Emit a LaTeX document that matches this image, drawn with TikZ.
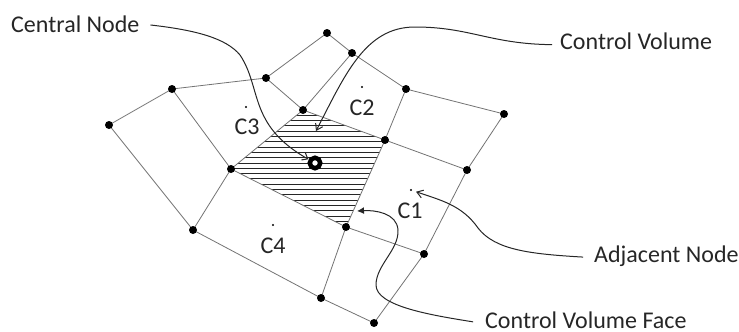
\documentclass[tikz,border=0pt]{standalone}
\usepackage{fontspec}
\setmainfont{Carlito}
\usetikzlibrary{arrows.meta}
\tikzset{
  meshpt/.style={circle,fill=black,inner sep=0pt,minimum size=8pt},
  meshline/.style={draw=black!55,line width=0.8pt},
  centredot/.style={circle,fill=black,inner sep=0pt,minimum size=2.2pt},
  leader/.style={draw=black!85,line width=1pt},
  lbl/.style={inner sep=0pt,anchor=base,font=\fontsize{24}{26}\selectfont,text=black!85}
}
\begin{document}
\begin{tikzpicture}[x=1pt,y=-1pt]
\useasboundingbox (0,0) rectangle (739,332);
% hatching of the control volume
\begin{scope}
\clip (303,110)--(385,140)--(346,227)--(231,169)--cycle;
\foreach \y in {110,115.3,...,228} \draw[black!85,line width=1pt] (225,\y)--(390,\y);
\end{scope}
% mesh
\foreach \name/\x/\y in {a/109/125,b/172/89,c/266/78,d/327/33,e/352/53,f/303/110,g/231/169,h/385/140,i/346/227,j/406/89,k/504/114,l/467/170,m/193/230,n/321/298,o/374/323,p/424/254}
  \coordinate (\name) at (\x,\y);
\foreach \u/\v in {a/b,b/c,c/d,d/e,e/j,j/k,k/l,l/p,p/o,o/n,n/m,m/a,b/g,c/f,f/e,f/g,f/h,h/j,h/l,h/i,i/g,i/p,i/n,g/m}
  \draw[meshline] (\u)--(\v);
\foreach \name in {a,b,c,d,e,f,g,h,i,j,k,l,m,n,o,p}
  \node[meshpt] (pt\name) at (\name) {};
% cell centres
\node[centredot] (dotone) at (411,190) {};
\node[centredot] (dottwo) at (362,87) {};
\node[centredot] (dotthree) at (246,107) {};
\node[centredot] (dotfour) at (273,225) {};
\node[lbl] (cone) at (410,218) {C1};
\node[lbl] (ctwo) at (362,115) {C2};
\node[lbl] (cthree) at (247,134) {C3};
\node[lbl] (cfour) at (273,253) {C4};
\node[circle,draw=black,fill=white,line width=4.5pt,inner sep=0pt,minimum size=10.5pt] (central) at (315,163) {};
% labels
\node[lbl,anchor=base west] (lblcentral) at (11,32) {Central Node};
\node[lbl,anchor=base west] (lblvolume) at (560,49) {Control Volume};
\node[lbl,anchor=base west] (lbladjacent) at (594,262) {Adjacent Node};
\node[lbl,anchor=base west] (lblface) at (485,328) {Control Volume Face};
\coordinate (facept) at (357,211);
\coordinate (volumept) at (316,131);
% leaders
\draw[leader,-{Straight Barb[length=5pt,width=8pt]},shorten <=11pt] (lblcentral.east) .. controls (195,30) and (226,38) .. (240,55) .. controls (262,88) and (248,125) .. (central);
\draw[leader,-{Straight Barb[length=6pt,width=8pt]},shorten <=8pt] ([yshift=-4pt]lblvolume.west) .. controls (490,44) and (470,27) .. (415,27) .. controls (365,27) and (345,75) .. (volumept);
\draw[leader,-{Straight Barb[length=6pt,width=8pt]},shorten <=11pt,shorten >=4pt] ([yshift=-2pt]lbladjacent.west) .. controls (530,254) and (495,250) .. (478,228) .. controls (462,205) and (440,200) .. (dotone);
\draw[leader,-{Latex[length=7pt,width=7pt]},shorten <=12pt] ([yshift=-4pt]lblface.west) .. controls (430,315) and (376,306) .. (376,285) .. controls (376,265) and (399,250) .. (398,230) .. controls (397,213) and (375,210) .. (facept);
\end{tikzpicture}
\end{document}
